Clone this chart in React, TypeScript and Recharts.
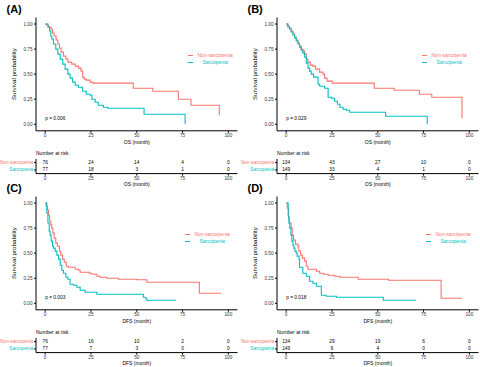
import React from 'react'
import {
  LineChart,
  Line,
  XAxis,
  YAxis,
  Legend,
  ReferenceDot,
  ScatterChart,
  Scatter,
} from 'recharts'

const RED = '#F8766D'
const TEAL = '#00BFC4'
const FONT = '"Liberation Sans", Arial, sans-serif'
const TICK_FILL = '#333333'

const GROUPS = ['Non-sarcopenia', 'Sarcopenia']
const X_TICKS = [0, 25, 50, 75, 100]
const Y_TICKS = [0, 0.25, 0.5, 0.75, 1]

const PANEL_LABELS = ['(A)', '(B)', '(C)', '(D)']
const P_VALUES = ['p = 0.006', 'p = 0.029', 'p = 0.003', 'p = 0.018']
const X_TITLES = ['OS (month)', 'OS (month)', 'DFS (month)', 'DFS (month)']

// (A) OS, cohort 1
const A_NON_T = [0, 0.9, 1.8, 3.1, 4.0, 4.9, 6.0, 6.9, 7.8, 8.7, 10.0, 11.3, 12.4, 14.5, 16.4, 18.2, 19.6, 20.5, 21.3, 22.4, 24.5, 26.0, 48.1, 58.8, 72.7, 79.6, 95.1]
const A_NON_S = [1, 0.99, 0.97, 0.95, 0.91, 0.88, 0.84, 0.8, 0.76, 0.72, 0.68, 0.65, 0.62, 0.6, 0.58, 0.56, 0.53, 0.47, 0.45, 0.44, 0.42, 0.41, 0.36, 0.33, 0.25, 0.19, 0.09]
const A_SAR_T = [0, 1.5, 2.4, 3.1, 3.6, 4.5, 5.8, 6.9, 8.2, 9.6, 10.9, 12.4, 13.6, 15.0, 16.4, 18.2, 20.5, 22.4, 24.5, 25.5, 27.3, 29.0, 31.8, 34.2, 54.0, 76.4]
const A_SAR_S = [1, 0.97, 0.93, 0.88, 0.85, 0.8, 0.75, 0.7, 0.65, 0.6, 0.55, 0.5, 0.46, 0.42, 0.39, 0.37, 0.33, 0.3, 0.29, 0.25, 0.22, 0.19, 0.17, 0.16, 0.1, 0]
const A_RISK_NON = [76, 24, 14, 4, 0]
const A_RISK_SAR = [77, 18, 3, 1, 0]

// (B) OS, cohort 2
const B_NON_T = [0, 0.9, 1.8, 2.7, 3.7, 4.6, 5.5, 6.4, 7.3, 8.2, 9.1, 10.1, 11.0, 11.9, 13.2, 14.6, 16.1, 18.3, 20.1, 21.0, 22.3, 25.2, 48.1, 59.0, 72.7, 79.5, 96.0]
const B_NON_S = [1, 0.98, 0.96, 0.93, 0.9, 0.87, 0.84, 0.81, 0.78, 0.75, 0.73, 0.7, 0.65, 0.62, 0.59, 0.58, 0.55, 0.52, 0.5, 0.46, 0.43, 0.41, 0.36, 0.34, 0.3, 0.27, 0.06]
const B_SAR_T = [0, 0.9, 1.8, 2.7, 3.7, 4.6, 5.5, 6.4, 7.3, 8.2, 9.1, 10.1, 11.0, 11.9, 12.8, 13.7, 15.0, 17.4, 18.3, 21.0, 22.9, 24.7, 26.5, 28.0, 29.3, 31.1, 32.9, 34.7, 54.3, 77.0]
const B_SAR_S = [1, 0.97, 0.95, 0.92, 0.89, 0.86, 0.83, 0.8, 0.77, 0.74, 0.71, 0.67, 0.61, 0.56, 0.53, 0.5, 0.47, 0.4, 0.38, 0.36, 0.27, 0.26, 0.23, 0.2, 0.17, 0.15, 0.14, 0.12, 0.08, 0]
const B_RISK_NON = [134, 43, 27, 10, 0]
const B_RISK_SAR = [149, 33, 4, 1, 0]

// (C) DFS, cohort 1
const C_NON_T = [0, 0.5, 1.3, 1.8, 2.4, 3.1, 3.6, 4.2, 4.9, 5.8, 6.7, 7.8, 8.5, 9.5, 10.4, 11.5, 12.7, 16.4, 18.2, 19.1, 24.2, 25.5, 28.2, 30.0, 33.6, 40.0, 50.0, 55.5, 84.2, 96.0]
const C_NON_S = [1, 0.97, 0.93, 0.88, 0.82, 0.78, 0.75, 0.7, 0.65, 0.6, 0.57, 0.52, 0.48, 0.44, 0.41, 0.37, 0.36, 0.34, 0.33, 0.31, 0.3, 0.29, 0.27, 0.26, 0.25, 0.24, 0.235, 0.21, 0.1, 0.1]
const C_SAR_T = [0, 0.9, 1.5, 2.2, 2.7, 3.3, 4.0, 4.5, 5.5, 6.4, 7.3, 8.2, 9.1, 10.0, 11.3, 12.4, 13.6, 15.5, 17.3, 19.1, 21.8, 28.2, 53.6, 55.0, 55.5, 71.5]
const C_SAR_S = [1, 0.9, 0.8, 0.72, 0.68, 0.62, 0.57, 0.55, 0.52, 0.48, 0.44, 0.38, 0.33, 0.3, 0.26, 0.24, 0.19, 0.18, 0.16, 0.13, 0.11, 0.09, 0.06, 0.045, 0.03, 0.03]
const C_RISK_NON = [76, 16, 10, 2, 0]
const C_RISK_SAR = [77, 7, 3, 0, 0]

// (D) DFS, cohort 2
const D_NON_T = [0, 0.6, 1.3, 1.8, 2.7, 3.3, 4.0, 5.1, 6.4, 6.9, 7.9, 8.8, 10.1, 11.0, 11.9, 16.5, 18.3, 20.5, 22.9, 26.5, 29.3, 39.3, 55.8, 84.6, 96.0]
const D_NON_S = [1, 0.95, 0.85, 0.8, 0.75, 0.68, 0.63, 0.59, 0.57, 0.52, 0.48, 0.45, 0.42, 0.37, 0.34, 0.32, 0.3, 0.29, 0.28, 0.27, 0.26, 0.24, 0.23, 0.05, 0.05]
const D_SAR_T = [0, 1.1, 1.5, 2.0, 2.6, 3.1, 3.7, 4.2, 4.8, 5.5, 6.0, 7.0, 7.3, 9.1, 11.0, 12.8, 14.6, 16.5, 19.2, 21.9, 27.4, 53.0, 71.0]
const D_SAR_S = [1, 0.87, 0.8, 0.75, 0.68, 0.62, 0.58, 0.55, 0.52, 0.5, 0.47, 0.44, 0.36, 0.3, 0.27, 0.22, 0.2, 0.17, 0.08, 0.07, 0.06, 0.03, 0.03]
const D_RISK_NON = [134, 29, 19, 6, 0]
const D_RISK_SAR = [149, 9, 4, 0, 0]

const toCurve = (t: number[], s: number[]) => t.map((v, i) => ({ t: v, s: s[i] }))

const toRisk = (non: number[], sar: number[]) => [
  ...X_TICKS.map((t, i) => ({ t, row: 2, n: non[i] })),
  ...X_TICKS.map((t, i) => ({ t, row: 1, n: sar[i] })),
]

const PANELS = [
  { x: 0, y: 0, legendX: 188, non: toCurve(A_NON_T, A_NON_S), sar: toCurve(A_SAR_T, A_SAR_S), risk: toRisk(A_RISK_NON, A_RISK_SAR) },
  { x: 241, y: 0, legendX: 181, non: toCurve(B_NON_T, B_NON_S), sar: toCurve(B_SAR_T, B_SAR_S), risk: toRisk(B_RISK_NON, B_RISK_SAR) },
  { x: 0, y: 179, legendX: 185, non: toCurve(C_NON_T, C_NON_S), sar: toCurve(C_SAR_T, C_SAR_S), risk: toRisk(C_RISK_NON, C_RISK_SAR) },
  { x: 241, y: 179, legendX: 185, non: toCurve(D_NON_T, D_NON_S), sar: toCurve(D_SAR_T, D_SAR_S), risk: toRisk(D_RISK_NON, D_RISK_SAR) },
]

const AXIS_LINE = { stroke: '#000', strokeWidth: 1 }
const TICK_STYLE = { fontSize: 4.7, fill: TICK_FILL, fontFamily: FONT }

function renderLegend(props: any) {
  const items = props.payload || []
  return (
    <div
      style={{
        display: 'inline-grid',
        gridTemplateColumns: '5px max-content',
        columnGap: 4.5,
        fontFamily: FONT,
        fontSize: 5,
        lineHeight: '7px',
      }}
    >
      {items.map((e: any) => (
        <React.Fragment key={e.value}>
          <span style={{ alignSelf: 'center', height: 1.2, background: e.color }} />
          <span style={{ color: e.color, textAlign: 'center', whiteSpace: 'nowrap' }}>{e.value}</span>
        </React.Fragment>
      ))}
    </div>
  )
}

function RiskTick(props: any) {
  const { x, y, payload } = props
  const color = payload.value === 2 ? RED : TEAL
  return (
    <text x={x} y={y} textAnchor="end" dominantBaseline="central" fontSize={4.7} fontFamily={FONT} fill={color}>
      {payload.value === 2 ? GROUPS[0] : GROUPS[1]}
    </text>
  )
}

function RiskNumber(props: any) {
  const { cx, cy, payload } = props
  return (
    <text x={cx} y={cy} textAnchor="middle" dominantBaseline="central" fontSize={4.8} fontFamily={FONT} fill="#000">
      {payload.n}
    </text>
  )
}

function KMPanel({ idx }: { idx: number }) {
  const p = PANELS[idx]
  const xTitle = X_TITLES[idx]
  return (
    <div style={{ position: 'absolute', left: p.x, top: p.y, width: 240, height: 190 }}>
      <div
        style={{
          position: 'absolute',
          left: 6.5,
          top: 3.5,
          fontFamily: FONT,
          fontWeight: 'bold',
          fontSize: 11,
          lineHeight: '11px',
        }}
      >
        {PANEL_LABELS[idx]}
      </div>

      {/* survival curves */}
      <div style={{ position: 'absolute', left: 0, top: 0 }}>
        <LineChart width={240} height={150} margin={{ top: 17.5, right: 2.5, bottom: 0, left: 0 }}>
          <XAxis
            type="number"
            dataKey="t"
            domain={[-5, 105]}
            ticks={X_TICKS}
            interval={0}
            height={19.2}
            axisLine={AXIS_LINE}
            tickLine={AXIS_LINE}
            tickSize={2}
            tickMargin={0.5}
            tick={TICK_STYLE}
            label={{
              content: (lp: any) => {
                const vb = lp.viewBox
                return (
                  <text x={vb.x + vb.width / 2} y={vb.y + 10.8} textAnchor="middle" dominantBaseline="central" fontSize={5} fontFamily={FONT} fill="#000">
                    {xTitle}
                  </text>
                )
              },
            }}
          />
          <YAxis
            type="number"
            domain={[-0.065, 1.065]}
            ticks={Y_TICKS}
            interval={0}
            width={36}
            axisLine={AXIS_LINE}
            tickLine={AXIS_LINE}
            tickSize={2}
            tickMargin={1.5}
            tick={TICK_STYLE}
            tickFormatter={(v: number) => v.toFixed(2)}
            label={{
              content: (lp: any) => {
                const vb = lp.viewBox
                const cx = 14
                const cy = vb.y + vb.height / 2
                return (
                  <text x={cx} y={cy} transform={`rotate(-90 ${cx} ${cy})`} textAnchor="middle" dominantBaseline="central" fontSize={6.2} fontFamily={FONT} fill="#000">
                    Survival probability
                  </text>
                )
              },
            }}
          />
          <Legend
            layout="vertical"
            align="center"
            verticalAlign="middle"
            content={renderLegend}
            wrapperStyle={{ left: p.legendX, top: 41.8, width: 'auto', height: 14 }}
          />
          <Line data={p.non} dataKey="s" name={GROUPS[0]} type="stepAfter" stroke={RED} strokeWidth={1.1} dot={false} isAnimationActive={false} />
          <Line data={p.sar} dataKey="s" name={GROUPS[1]} type="stepAfter" stroke={TEAL} strokeWidth={1.1} dot={false} isAnimationActive={false} />
          <ReferenceDot
            x={0}
            y={0.056}
            r={1}
            fill="none"
            stroke="none"
            label={{
              content: (lp: any) => {
                const vb = lp.viewBox
                return (
                  <text x={vb.x + vb.width / 2} y={vb.y + vb.height / 2} dominantBaseline="central" fontSize={4.8} fontFamily={FONT} fill="#000">
                    {P_VALUES[idx]}
                  </text>
                )
              },
            }}
          />
        </LineChart>
      </div>

      {/* number at risk table */}
      <div style={{ position: 'absolute', left: 0, top: 151 }}>
        <ScatterChart width={240} height={38} margin={{ top: 8, right: 2.5, bottom: 0, left: 0 }}>
          <XAxis
            type="number"
            dataKey="t"
            domain={[-5, 105]}
            ticks={X_TICKS}
            interval={0}
            height={15.4}
            axisLine={AXIS_LINE}
            tickLine={AXIS_LINE}
            tickSize={2}
            tickMargin={0.8}
            tick={TICK_STYLE}
            label={{
              content: (lp: any) => {
                const vb = lp.viewBox
                return (
                  <text x={vb.x + vb.width / 2} y={vb.y + 10.4} textAnchor="middle" dominantBaseline="central" fontSize={5} fontFamily={FONT} fill="#000">
                    {xTitle}
                  </text>
                )
              },
            }}
          />
          <YAxis
            type="number"
            dataKey="row"
            domain={[0.5, 2.5]}
            ticks={[1, 2]}
            interval={0}
            width={36}
            axisLine={AXIS_LINE}
            tickLine={AXIS_LINE}
            tickSize={2}
            tickMargin={1}
            tick={<RiskTick />}
            label={{
              content: (lp: any) => {
                const vb = lp.viewBox
                return (
                  <text x={vb.x + vb.width} y={vb.y - 6.5} dominantBaseline="central" fontSize={5} fontFamily={FONT} fill="#000">
                    Number at risk
                  </text>
                )
              },
            }}
          />
          <Scatter data={p.risk} shape={RiskNumber} isAnimationActive={false} />
        </ScatterChart>
      </div>
    </div>
  )
}

export default function App() {
  return (
    <div style={{ position: 'absolute', left: 0, top: 0, width: 480, height: 367, background: '#fff', overflow: 'hidden' }}>
      {PANELS.map((_, i) => (
        <KMPanel key={i} idx={i} />
      ))}
    </div>
  )
}
